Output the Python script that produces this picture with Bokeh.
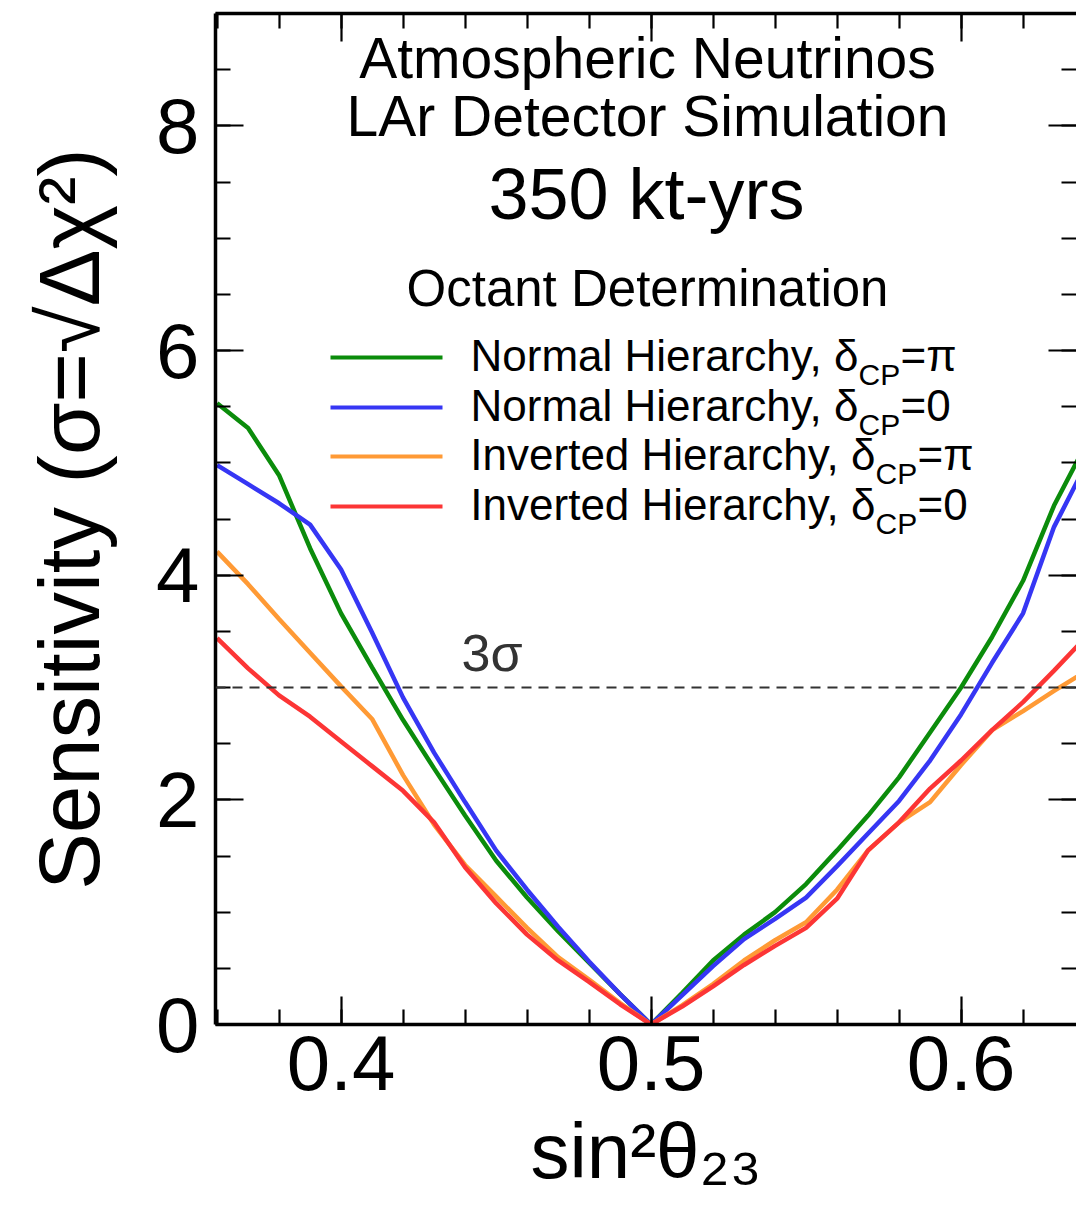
from bokeh.plotting import figure
from bokeh.models import Range1d, FixedTicker, Span, Label, LinearAxis
from bokeh.embed import file_html
from bokeh.resources import INLINE

# ---------------- data ----------------
sin2_theta23 = [0.36, 0.37, 0.38, 0.39, 0.40, 0.41, 0.42, 0.43, 0.44, 0.45,
                0.46, 0.47, 0.48, 0.49, 0.50, 0.51, 0.52, 0.53, 0.54, 0.55,
                0.56, 0.57, 0.58, 0.59, 0.60, 0.61, 0.62, 0.63, 0.64]
nh_delta_pi = [5.53, 5.31, 4.89, 4.24, 3.66, 3.18, 2.71, 2.28, 1.86, 1.46,
               1.13, 0.83, 0.55, 0.27, 0.00, 0.28, 0.57, 0.80, 1.00, 1.25,
               1.55, 1.86, 2.20, 2.60, 3.00, 3.45, 3.95, 4.62, 5.15]
nh_delta_0 = [4.98, 4.81, 4.64, 4.45, 4.05, 3.49, 2.91, 2.42, 1.98, 1.55,
              1.20, 0.87, 0.56, 0.27, 0.00, 0.26, 0.52, 0.76, 0.94, 1.13,
              1.41, 1.70, 1.99, 2.35, 2.76, 3.22, 3.66, 4.43, 4.97]
ih_delta_pi = [4.21, 3.92, 3.61, 3.31, 3.01, 2.72, 2.22, 1.78, 1.42, 1.14,
               0.86, 0.60, 0.40, 0.19, 0.00, 0.17, 0.36, 0.57, 0.75, 0.91,
               1.20, 1.55, 1.80, 1.98, 2.31, 2.62, 2.79, 2.97, 3.14]
ih_delta_0 = [3.44, 3.17, 2.93, 2.74, 2.52, 2.30, 2.08, 1.80, 1.40, 1.08,
              0.80, 0.57, 0.38, 0.18, 0.00, 0.16, 0.34, 0.53, 0.70, 0.86,
              1.12, 1.55, 1.80, 2.10, 2.35, 2.62, 2.87, 3.15, 3.44]

series_names = ["Normal", "Normal", "Inverted", "Inverted"]
series_delta = ["π", "0", "π", "0"]
x_major_ticks = [0.4, 0.5, 0.6]
x_tick_labels = ["0.4", "0.5", "0.6"]
y_major_ticks = [0, 2, 4, 6, 8]
y_tick_labels = ["0", "2", "4", "6", "8"]
three_sigma = 3
title_lines = ["Atmospheric Neutrinos", "LAr Detector Simulation", "350 kt-yrs",
               "Octant Determination"]
x_axis_title = "sin²θ₂₃"
y_axis_title = "Sensitivity (σ=√Δχ²)"

# ---------------- styling / geometry ----------------
FONT = "Liberation Sans"
W, H = 1076, 1207
ML, MR, MT, MB = 215, 0, 13, 183
FRAME_W = W - ML - MR
FRAME_H = H - MT - MB
PX_PER_X = 3100.0
X0 = 0.3595
X1 = X0 + FRAME_W / PX_PER_X
Y0, Y1 = 0, 9
PX_PER_Y = FRAME_H / (Y1 - Y0)
FRAME_LEFT_PAGE = ML
FRAME_BOTTOM_PAGE = MT + FRAME_H
BASELINE_FIX = 0.38


def dx(px):
    return X0 + (px - FRAME_LEFT_PAGE) / PX_PER_X


def dy(py):
    return (FRAME_BOTTOM_PAGE - py) / PX_PER_Y


colors = ["#0b8c0b", "#3636f4", "#ff9a35", "#fc3535"]
series = [nh_delta_pi, nh_delta_0, ih_delta_pi, ih_delta_0]

p = figure(width=W, height=H, x_range=Range1d(X0, X1), y_range=Range1d(Y0, Y1),
           output_backend="svg", toolbar_location=None,
           min_border_left=ML, min_border_right=MR, min_border_top=MT,
           min_border_bottom=MB)
p.outline_line_color = None
p.grid.visible = False
p.background_fill_color = "white"
p.border_fill_color = "white"

x_minor = [round(0.36 + 0.02 * i, 2) for i in range(15)]
y_minor = [0.5 * i for i in range(19)]
xt = FixedTicker(ticks=x_major_ticks, minor_ticks=x_minor)
yt = FixedTicker(ticks=y_major_ticks, minor_ticks=y_minor)


def style_axis(ax, ticker, labels):
    ax.ticker = ticker
    ax.axis_line_width = 3.5
    ax.axis_line_color = "black"
    ax.major_tick_in = 28
    ax.major_tick_out = 0
    ax.minor_tick_in = 15
    ax.minor_tick_out = 0
    ax.major_tick_line_width = 2.2
    ax.minor_tick_line_width = 2.2
    ax.major_tick_line_color = "black"
    ax.minor_tick_line_color = "black"
    ax.major_label_text_font = FONT
    ax.major_label_text_font_size = "78px"
    ax.major_label_text_color = "black"
    ax.major_label_overrides = {t: l for t, l in zip(ticker.ticks, labels)}


xa = p.xaxis[0]
style_axis(xa, xt, x_tick_labels)
xa.major_label_standoff = 11
xa.axis_label = x_axis_title
xa.axis_label_text_font = FONT
xa.axis_label_text_font_size = "78px"
xa.axis_label_text_font_style = "normal"
xa.axis_label_text_color = "black"
xa.axis_label_standoff = 14

ya = p.yaxis[0]
style_axis(ya, yt, y_tick_labels)
ya.major_label_standoff = 16
ya.axis_label = y_axis_title
ya.axis_label_text_font = FONT
ya.axis_label_text_font_size = "85px"
ya.axis_label_text_font_style = "normal"
ya.axis_label_text_color = "black"
ya.axis_label_standoff = 36

top = LinearAxis()
style_axis(top, xt, ["" for _ in x_major_ticks])
top.major_label_text_font_size = "1px"
top.major_label_standoff = 0
p.add_layout(top, "above")

right = LinearAxis()
style_axis(right, yt, ["" for _ in y_major_ticks])
right.major_label_text_font_size = "1px"
right.major_label_standoff = 0
right.axis_line_color = None
p.add_layout(right, "right")

# 3 sigma reference line
p.add_layout(Span(location=three_sigma, dimension="width", line_color="#333333",
                  line_width=2, line_dash="10 7"))

# curves
for ys, c in zip(series, colors):
    p.line(sin2_theta23, ys, line_color=c, line_width=4.5)


def lab(text, px, py, size, align="left", color="black"):
    py = py - BASELINE_FIX * size
    p.add_layout(Label(x=dx(px), y=dy(py), text=text, text_font=FONT,
                       text_font_size=f"{size}px", text_align=align,
                       text_baseline="alphabetic", text_color=color))


# title block
lab(title_lines[0], 647, 79, 57, "center")
lab(title_lines[1], 647, 137, 57, "center")
lab(title_lines[2], 646, 221, 72, "center")
lab(title_lines[3], 647, 307, 51, "center")

# 3 sigma label
lab("3σ", 461, 672, 52, color="#333333")

# legend
row_py = [357, 407, 456, 506]
for name, d, c, py in zip(series_names, series_delta, colors, row_py):
    p.segment(x0=[dx(330)], y0=[dy(py)], x1=[dx(442)], y1=[dy(py)],
              line_color=c, line_width=4)
    main = f"{name} Hierarchy, δ"
    anchor = 858 if name == "Normal" else 875
    lab(main, anchor, py + 15, 44, "right")
    lab("CP", anchor, py + 28, 30, "left")
    lab("=" + d, anchor + 42, py + 15, 44, "left")

open("out.html", "w").write(file_html(p, INLINE))
